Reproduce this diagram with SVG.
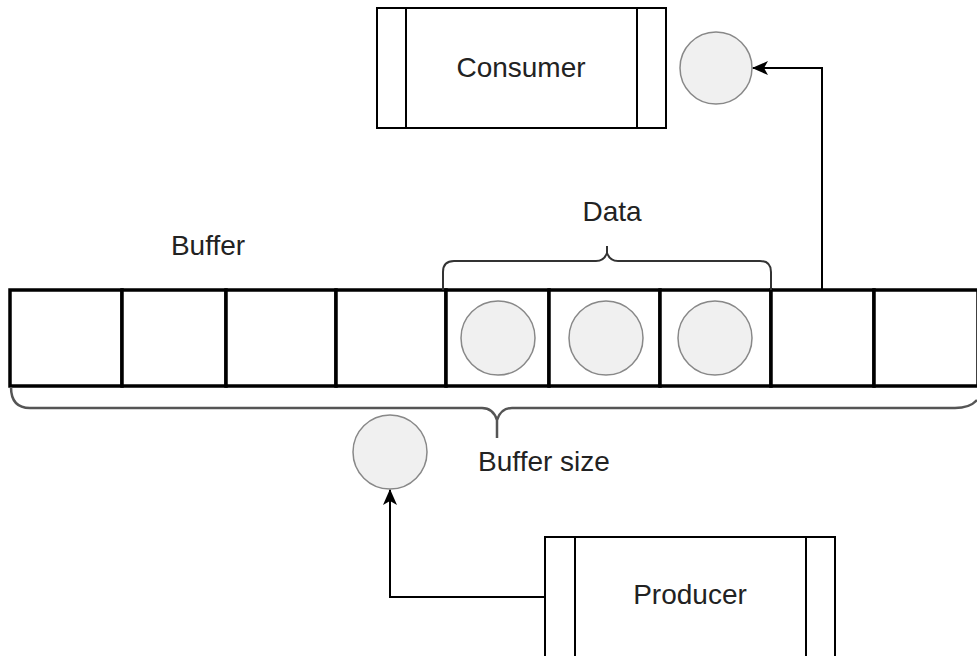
<svg xmlns="http://www.w3.org/2000/svg" width="977" height="656" viewBox="0 0 977 656">
<defs>
<style>
.box{fill:#fff;stroke:#000;stroke-width:2}
.cell{fill:#fff;stroke:#000;stroke-width:3.5}
.tok{fill:#f0f0f0;stroke:#888;stroke-width:1.5}
.brace{fill:none;stroke:#333;stroke-width:2}
.lbl{font-family:"Liberation Sans",Arial,sans-serif;font-size:28px;fill:#222;text-anchor:middle;dominant-baseline:central}
.conn{fill:none;stroke:#000;stroke-width:2}
</style>
<marker id="arr" viewBox="0 0 16 14" refX="15" refY="7" markerWidth="16" markerHeight="14" markerUnits="userSpaceOnUse" orient="auto">
<path d="M0,0 L16,7 L0,14 L4,7 Z" fill="#000"/>
</marker>
</defs>
<rect width="977" height="656" fill="#fff"/>

<g id="consumer">
<rect class="box" x="377" y="8" width="289" height="120"/>
<line class="box" x1="406" y1="8" x2="406" y2="128"/>
<line class="box" x1="637" y1="8" x2="637" y2="128"/>
<text class="lbl" x="521" y="67">Consumer</text>
</g>

<g id="consumer-token">
<circle class="tok" cx="716" cy="68" r="36"/>
</g>

<g id="buffer">
<rect class="cell" x="10" y="290" width="112" height="96"/>
<rect class="cell" x="122" y="290" width="104" height="96"/>
<rect class="cell" x="226" y="290" width="110" height="96"/>
<rect class="cell" x="336" y="290" width="110" height="96"/>
<rect class="cell" x="446" y="290" width="103" height="96"/>
<rect class="cell" x="549" y="290" width="111" height="96"/>
<rect class="cell" x="660" y="290" width="111" height="96"/>
<rect class="cell" x="771" y="290" width="103" height="96"/>
<rect class="cell" x="874" y="290" width="104" height="96"/>
<circle class="tok" cx="498" cy="338" r="37"/>
<circle class="tok" cx="606" cy="338" r="37"/>
<circle class="tok" cx="715" cy="338" r="37"/>
</g>

<g id="buffer-label">
<text class="lbl" x="208" y="245">Buffer</text>
</g>

<g id="data-brace">
<path class="brace" d="M443,290 L443,272 Q443,261 454,261 L596,261 Q604,261 607,253 L607,246 M607,253 Q610,261 618,261 L760,261 Q771,261 771,272 L771,290"/>
<text class="lbl" x="612" y="211">Data</text>
</g>

<g id="size-brace">
<path class="brace" style="stroke:#555;stroke-width:2.5" d="M11,387 Q11,408 30,408 L482,408 Q493,408 497,420 L497,438 M497,420 Q501,408 512,408 L955,408 Q970,408 977,400"/>
<text class="lbl" x="544" y="461">Buffer size</text>
</g>

<g id="producer-token">
<circle class="tok" cx="390" cy="452" r="37"/>
</g>

<g id="producer">
<rect class="box" x="545" y="537" width="290" height="121"/>
<line class="box" x1="575" y1="537" x2="575" y2="658"/>
<line class="box" x1="806" y1="537" x2="806" y2="658"/>
<text class="lbl" x="690" y="594">Producer</text>
</g>

<g id="connectors">
<path class="conn" d="M822,290 L822,68 L753,68" marker-end="url(#arr)"/>
<path class="conn" d="M545,597 L390,597 L390,490" marker-end="url(#arr)"/>
</g>
</svg>
